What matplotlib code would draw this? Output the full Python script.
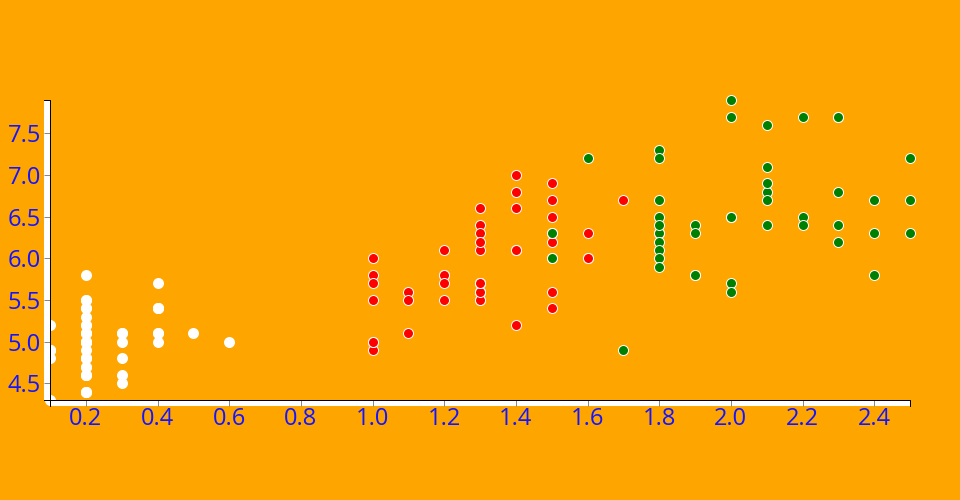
import matplotlib
matplotlib.use("Agg")
import matplotlib.pyplot as plt
from matplotlib.patches import Rectangle
from matplotlib.lines import Line2D

plt.rcParams['font.family'] = ['Open Sans', 'DejaVu Sans']

# Data: petal width (x) vs sepal length (y), as seen in the picture
setosa_pw = [0.2, 0.2, 0.2, 0.2, 0.2, 0.4, 0.3, 0.2, 0.2, 0.1, 0.2, 0.2, 0.1, 0.1, 0.2, 0.4, 0.4, 0.3,
             0.3, 0.2, 0.4, 0.2, 0.5, 0.2, 0.2, 0.4, 0.2, 0.2, 0.2, 0.2, 0.4, 0.1, 0.2, 0.1, 0.2, 0.2,
             0.1, 0.2, 0.2, 0.3, 0.3, 0.2, 0.6, 0.4, 0.3, 0.2, 0.2, 0.2, 0.2]
setosa_sl = [5.1, 4.9, 4.7, 4.6, 5.0, 5.4, 4.6, 5.0, 4.4, 4.9, 5.4, 4.8, 4.8, 4.3, 5.8, 5.7, 5.4, 5.1,
             5.1, 5.4, 5.1, 4.6, 5.1, 4.8, 5.0, 5.0, 5.2, 5.2, 4.7, 4.8, 5.4, 5.2, 5.5, 4.9, 5.0, 5.5,
             4.9, 4.4, 5.1, 5.0, 4.5, 4.4, 5.0, 5.1, 4.8, 5.1, 4.6, 5.3, 5.0]

versicolor_pw = [1.4, 1.5, 1.3, 1.5, 1.3, 1.6, 1.0, 1.3, 1.4, 1.0, 1.0, 1.4, 1.3, 1.5, 1.0, 1.5,
                 1.1, 1.3, 1.5, 1.2, 1.3, 1.4, 1.4, 1.7, 1.5, 1.0, 1.1, 1.0, 1.2, 1.6, 1.5, 1.6,
                 1.5, 1.3, 1.3, 1.3, 1.2, 1.4, 1.2, 1.0, 1.3, 1.2, 1.3, 1.3, 1.1, 1.3]
versicolor_sl = [7.0, 6.9, 5.5, 6.5, 5.7, 6.3, 4.9, 6.6, 5.2, 5.0, 6.0, 6.1, 5.6, 5.6, 5.8, 6.2,
                 5.6, 6.1, 6.3, 6.1, 6.4, 6.6, 6.8, 6.7, 6.0, 5.7, 5.5, 5.5, 5.8, 6.0, 5.4, 6.0,
                 6.7, 6.3, 5.6, 5.5, 5.5, 6.1, 5.8, 5.0, 5.6, 5.7, 5.7, 6.2, 5.1, 5.7]

virginica_pw = [2.5, 1.9, 2.1, 1.8, 2.2, 2.1, 1.7, 1.8, 1.8, 2.5, 2.0, 1.9, 2.1, 2.0, 2.4, 2.3,
                1.8, 2.2, 2.3, 1.5, 2.0, 2.0, 1.8, 2.1, 1.8, 1.8, 1.8, 2.1, 1.6, 2.0, 2.2, 1.5,
                2.3, 2.4, 1.8, 1.8, 2.1, 2.4, 1.9, 2.3, 2.5, 1.9, 2.0, 2.3, 1.8]
virginica_sl = [6.3, 5.8, 7.1, 6.3, 6.5, 7.6, 4.9, 7.3, 6.7, 7.2, 6.5, 6.4, 6.8, 5.7, 5.8, 6.4,
                6.5, 7.7, 7.7, 6.0, 5.6, 7.7, 6.3, 6.7, 7.2, 6.2, 6.1, 6.4, 7.2, 7.9, 6.4, 6.3,
                7.7, 6.3, 6.4, 6.0, 6.9, 6.7, 5.8, 6.8, 6.7, 6.3, 6.5, 6.2, 5.9]

x_ticks = [0.2, 0.4, 0.6, 0.8, 1.0, 1.2, 1.4, 1.6, 1.8, 2.0, 2.2, 2.4]
y_ticks = [4.5, 5.0, 5.5, 6.0, 6.5, 7.0, 7.5]

BG = '#FFA500'
W, H = 960, 500
L, B, PW, PH = 50, 100, 860, 300

fig = plt.figure(figsize=(W / 100, H / 100), dpi=100, facecolor=BG)
ax = fig.add_axes([L / W, B / H, PW / W, PH / H])
ax.set_facecolor(BG)
ax.set_xlim(0.1, 2.5)
ax.set_ylim(4.3, 7.9)
for s in ax.spines.values():
    s.set_visible(False)

px = 0.72  # points per pixel
ax.scatter(setosa_pw, setosa_sl, s=(11 * px) ** 2, c='white', linewidths=0, zorder=1, clip_on=False)
ax.scatter(versicolor_pw, versicolor_sl, s=(10 * px) ** 2, c='red', edgecolors='white',
           linewidths=1 * px, zorder=1, clip_on=False)
ax.scatter(virginica_pw, virginica_sl, s=(10 * px) ** 2, c='green', edgecolors='white',
           linewidths=1 * px, zorder=1, clip_on=False)

ax.set_xticks(x_ticks)
ax.set_xticklabels([f"{v:.1f}" for v in x_ticks])
ax.set_yticks(y_ticks)
ax.set_yticklabels([f"{v:.1f}" for v in y_ticks])
ax.tick_params(direction='out', length=6 * px, width=1 * px, color='#888888',
               labelcolor='#1414ff', labelsize=17, pad=3 * px)
ax.tick_params(axis='x', pad=1 * px)
ax.set_axisbelow(False)

# axis domain bands (white fill, black outline)
dx = 6 / PW
dy = 6 / PH
ax.add_patch(Rectangle((-dx, 0), dx, 1, transform=ax.transAxes, facecolor='white',
                       edgecolor='none', clip_on=False, zorder=2))
ax.add_patch(Rectangle((0, -dy), 1, dy, transform=ax.transAxes, facecolor='white',
                       edgecolor='none', clip_on=False, zorder=2))
ax.add_line(Line2D([-dx, 0, 0, -dx], [1, 1, 0, 0], transform=ax.transAxes, color='black',
                   linewidth=1 * px, clip_on=False, zorder=3))
ax.add_line(Line2D([0, 0, 1, 1], [-dy, 0, 0, -dy], transform=ax.transAxes, color='black',
                   linewidth=1 * px, clip_on=False, zorder=3))

fig.savefig('out.png', dpi=100, facecolor=BG)
